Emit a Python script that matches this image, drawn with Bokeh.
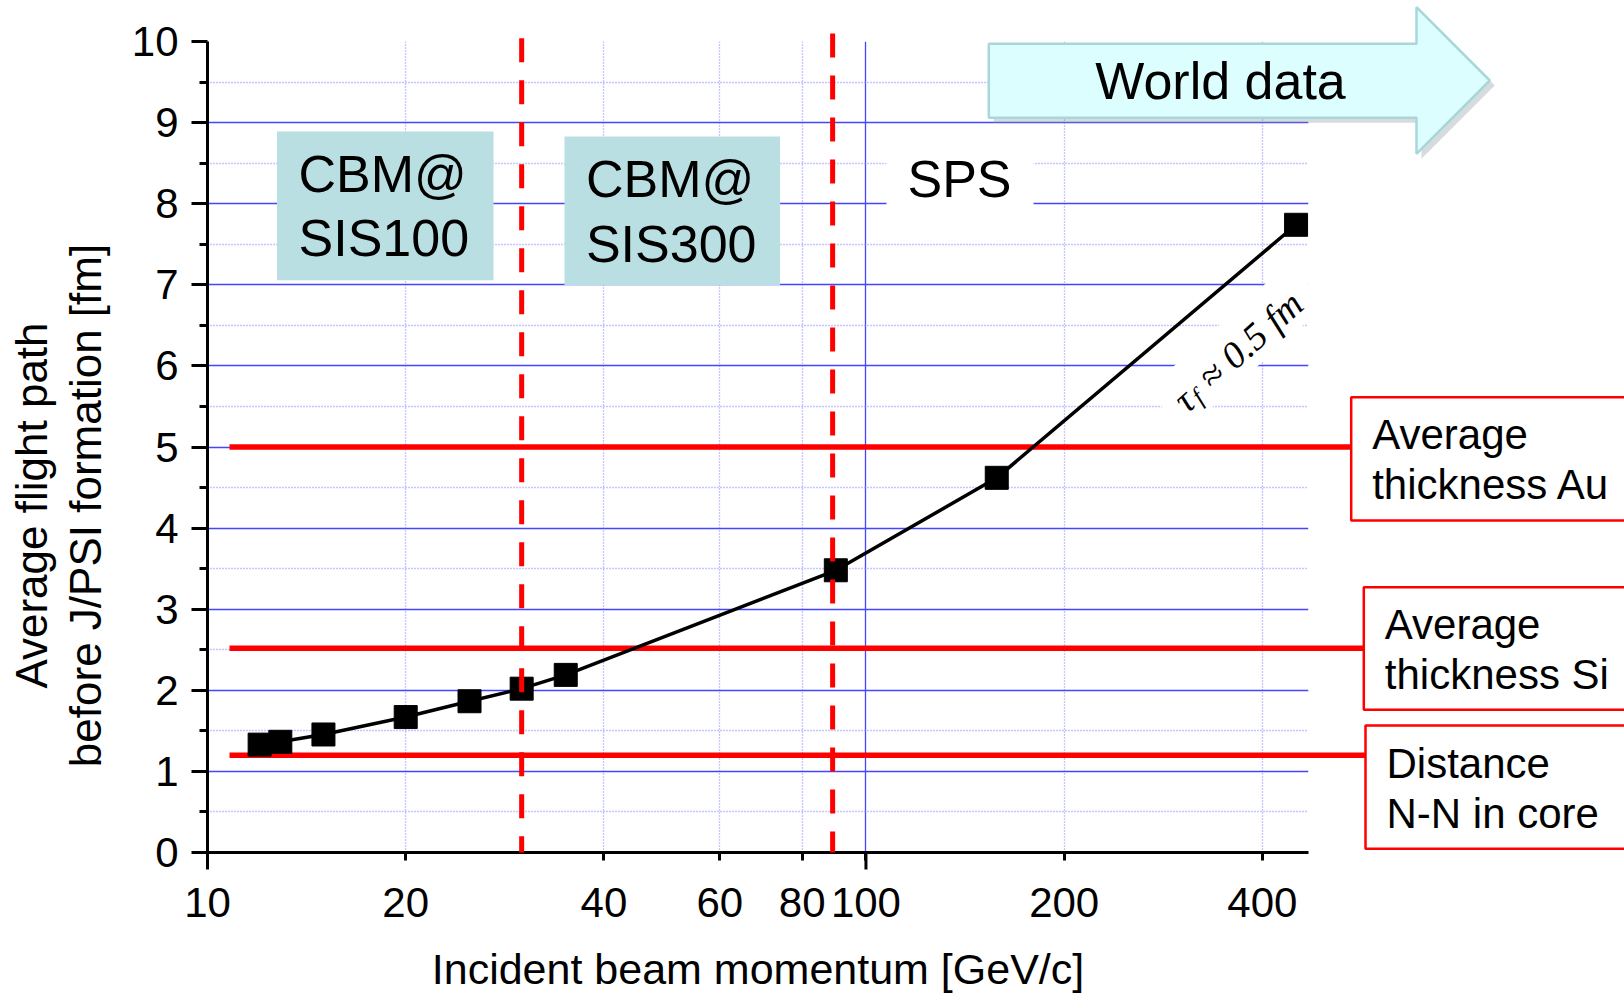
import math
from bokeh.plotting import figure
from bokeh.models import (Range1d, FixedTicker, PrintfTickFormatter, Label,
                          BoxAnnotation, PolyAnnotation)
from bokeh.core.properties import value
from bokeh.embed import file_html
from bokeh.resources import INLINE

# ---------------- data ----------------
momentum_gev = [12, 12.9, 15, 20, 25, 30, 35, 90, 158, 450]
flight_path_fm = [1.33, 1.365, 1.455, 1.67, 1.865, 2.02, 2.19, 3.48, 4.62, 7.74]

x_tick_values = [10, 20, 40, 60, 80, 100, 200, 400]
x_decade_ticks = [10, 100]
x_grid_solid = [100]
x_grid_dotted = [20, 40, 60, 80, 200, 400]

y_tick_values = [0, 1, 2, 3, 4, 5, 6, 7, 8, 9, 10]
y_grid_solid = [1, 2, 3, 4, 5, 6, 7, 8, 9]
y_grid_dotted = [0.5, 1.5, 2.5, 3.5, 4.5, 5.5, 6.5, 7.5, 8.5, 9.5]

accelerator_limits = [30, 89]          # SIS100 / SIS300 reach [GeV/c]
accelerator_tops = [10.04, 10.1]

reference_levels = [5.0, 2.52, 1.2]    # [fm]
reference_names = ["Average\nthickness Au", "Average\nthickness Si", "Distance\nN-N in core"]
reference_start = 10.8

region_names = ["CBM@\nSIS100", "CBM@\nSIS300"]

# ---------------- layout ----------------
W, H = 1624, 996
FL, FR, FT, FB = 207, 1308, 41, 852
X_MIN, X_MAX = 10, 470
Y_MIN, Y_MAX = 0, 10
FW, FH = FR - FL, FB - FT
PPD = FW / math.log10(X_MAX / X_MIN)
PPU = FH / (Y_MAX - Y_MIN)

FONT = "Liberation Sans"
RED = "#ff0000"
BLUE = "#4545ff"
LBLUE = "#8c8cff"
TEAL = "#badfe2"


def S(X, Y):
    """page pixel -> frame screen units (x from left, y from bottom)"""
    return X - FL, FB - Y


def DX(X):
    """page pixel x -> data x (log axis)"""
    return X_MIN * 10 ** ((X - FL) / PPD)


def DY(Y):
    """page pixel y -> data y"""
    return Y_MIN + (FB - Y) / PPU


p = figure(width=W, height=H, x_axis_type="log",
           x_range=Range1d(X_MIN, X_MAX), y_range=Range1d(Y_MIN, Y_MAX),
           output_backend="svg", toolbar_location=None,
           min_border_left=FL, min_border_right=W - FR,
           min_border_top=FT, min_border_bottom=H - FB,
           background_fill_color="white", border_fill_color="white")
p.outline_line_color = None

# axes
xa = p.xaxis[0]
xa.ticker = FixedTicker(ticks=x_tick_values, minor_ticks=[])
xa.formatter = PrintfTickFormatter(format="%d")
ya = p.yaxis[0]
ya.ticker = FixedTicker(ticks=y_tick_values, minor_ticks=y_grid_dotted)
ya.formatter = PrintfTickFormatter(format="%d")
for ax in (xa, ya):
    ax.axis_line_width = 3
    ax.axis_line_color = "black"
    ax.major_tick_line_width = 3
    ax.major_tick_line_color = "black"
    ax.minor_tick_line_width = 3
    ax.minor_tick_line_color = "black"
    ax.major_tick_in = 0
    ax.minor_tick_in = 0
    ax.major_label_text_font = FONT
    ax.major_label_text_font_size = "42px"
    ax.major_label_text_color = "black"
xa.major_tick_out = 8
xa.major_label_standoff = 27
ya.major_tick_out = 16
ya.minor_tick_out = 8
ya.major_label_standoff = 13

# grids
p.xgrid.ticker = FixedTicker(ticks=x_grid_solid, minor_ticks=x_grid_dotted)
p.ygrid.ticker = FixedTicker(ticks=y_grid_solid, minor_ticks=y_grid_dotted)
for g in (p.xgrid[0], p.ygrid[0]):
    g.grid_line_color = BLUE
    g.grid_line_width = 1.3
    g.minor_grid_line_color = LBLUE
    g.minor_grid_line_width = 1.3
    g.minor_grid_line_dash = "1 2"

# CBM boxes (inside the frame)
cbm_boxes = [(276.5, 493, 131, 279.7), (564, 779.6, 136, 284.7)]
cbm_text_pos = [(298, 205.5), (585.4, 211)]
for (l, r, t, b), (tx, ty), name in zip(cbm_boxes, cbm_text_pos, region_names):
    sl, st = S(l, t)
    sr, sb = S(r, b)
    p.add_layout(BoxAnnotation(left=sl, right=sr, top=st, bottom=sb,
                               left_units="screen", right_units="screen",
                               top_units="screen", bottom_units="screen",
                               fill_color=TEAL, fill_alpha=1, line_color=None,
                               level="glyph"))
    x0, y0 = S(tx, ty)
    p.add_layout(Label(x=x0, y=y0, x_units="screen", y_units="screen", text=name,
                       text_font=FONT, text_font_size="52px", text_color="black",
                       text_align="left", text_baseline="middle", text_line_height=1.11))

# SPS label with white background
sl, st = S(886, 140)
sr, sb = S(1033, 225)
p.add_layout(BoxAnnotation(left=sl, right=sr, top=st, bottom=sb,
                           left_units="screen", right_units="screen",
                           top_units="screen", bottom_units="screen",
                           fill_color="white", fill_alpha=1, line_color=None, level="glyph"))
x0, y0 = S(959, 178.3)
p.add_layout(Label(x=x0, y=y0, x_units="screen", y_units="screen", text="SPS",
                   text_font=FONT, text_font_size="52px", text_color="black",
                   text_align="center", text_baseline="middle"))

# tau label (rotated) with white background
theta = math.radians(42)
ux, uy = math.cos(theta), -math.sin(theta)
nx, ny = math.sin(theta), math.cos(theta)
cx, cy = 1236, 347
corners = [(-95, -28), (130, -28), (130, 28), (-95, 28)]
bg = [S(cx + t * ux + s * nx, cy + t * uy + s * ny) for t, s in corners]
p.add_layout(PolyAnnotation(xs=[c[0] for c in bg], ys=[c[1] for c in bg],
                            xs_units="screen", ys_units="screen",
                            fill_color="white", fill_alpha=1, line_color=None, level="glyph"))
px0, py0 = 1178, 404
tau_parts = [("τ", 0, 0, "38px"), ("f", 16, 7, "25px"), ("≈ 0.5 fm", 34, 0, "38px")]
for txt, along, down, fs in tau_parts:
    X = px0 + along * ux + down * nx
    Y = py0 + along * uy + down * ny
    x0, y0 = S(X, Y)
    p.add_layout(Label(x=x0, y=y0, x_units="screen", y_units="screen", text=txt,
                       angle=theta, angle_units="rad",
                       text_font="Liberation Serif", text_font_style="italic",
                       text_font_size=fs, text_color="black",
                       text_align="left", text_baseline="alphabetic"))

# ---------- things that leave the frame: unclipped overlay glyphs ----------
# World data arrow
arrow_pts = [(988.3, 43.3), (1416, 43.3), (1416, 6.7), (1489.3, 80),
             (1416, 153.3), (1416, 117.3), (988.3, 117.3)]
p.patch([DX(X + 5) for X, Y in arrow_pts], [DY(Y + 5) for X, Y in arrow_pts],
        fill_color="#8a9a9c", fill_alpha=0.35, line_color=None, level="overlay")
p.patch([DX(X) for X, Y in arrow_pts], [DY(Y) for X, Y in arrow_pts],
        fill_color="#dcfeff", fill_alpha=1, line_color="#a9d6da", line_width=2.5,
        level="overlay")
p.text(x=[DX(1220)], y=[DY(80.8)], text=["World data"],
       text_font=value(FONT), text_font_size="52px", text_color="black",
       text_align="center", text_baseline="middle", level="overlay")

# reference boxes on the right
ref_boxes = [(1350.7, 396.7, 520), (1363.3, 586.7, 709.3), (1365, 725, 848.3)]
ref_ends = [DX(l) for l, t, b in ref_boxes]
p.quad(left=ref_ends, right=[DX(W + 20)] * len(ref_boxes),
       top=[DY(t) for l, t, b in ref_boxes], bottom=[DY(b) for l, t, b in ref_boxes],
       fill_color="white", fill_alpha=1, line_color=RED, line_width=2.5, level="overlay")
p.text(x=[DX(l + 21) for l, t, b in ref_boxes], y=[DY((t + b) / 2 + 1) for l, t, b in ref_boxes],
       text=reference_names, text_font=value(FONT), text_font_size="42px",
       text_color="black", text_align="left", text_baseline="middle",
       text_line_height=1.07, level="overlay")

# axis titles
p.text(x=[DX(757.5)], y=[DY(968)], text=["Incident beam momentum [GeV/c]"],
       text_font=value(FONT), text_font_size="43px", text_color="black",
       text_align="center", text_baseline="middle", level="overlay")
p.text(x=[DX(58.2)], y=[DY(505)], text=["Average flight path\nbefore J/PSI formation [fm]"],
       angle=math.pi / 2, text_font=value(FONT), text_font_size="44px", text_color="black",
       text_align="center", text_baseline="middle", text_line_height=1.11, level="overlay")

# ---------------- data glyphs ----------------
p.segment(x0=[reference_start] * len(reference_levels), y0=reference_levels,
          x1=ref_ends, y1=reference_levels,
          line_color=RED, line_width=5.5, level="overlay")
p.line(momentum_gev, flight_path_fm, line_color="black", line_width=3.5, level="overlay")
p.scatter(momentum_gev, flight_path_fm, marker="square", size=23,
          fill_color="black", line_color="black", level="overlay")
p.segment(x0=accelerator_limits, y0=accelerator_tops,
          x1=accelerator_limits, y1=[0] * len(accelerator_limits),
          line_color=RED, line_width=5, line_dash="24 18", level="overlay")
tick_len = 17 / PPU
p.segment(x0=x_decade_ticks, y0=[0] * len(x_decade_ticks),
          x1=x_decade_ticks, y1=[-tick_len] * len(x_decade_ticks),
          line_color="black", line_width=3, level="overlay")

open("out.html", "w").write(file_html(p, INLINE))
